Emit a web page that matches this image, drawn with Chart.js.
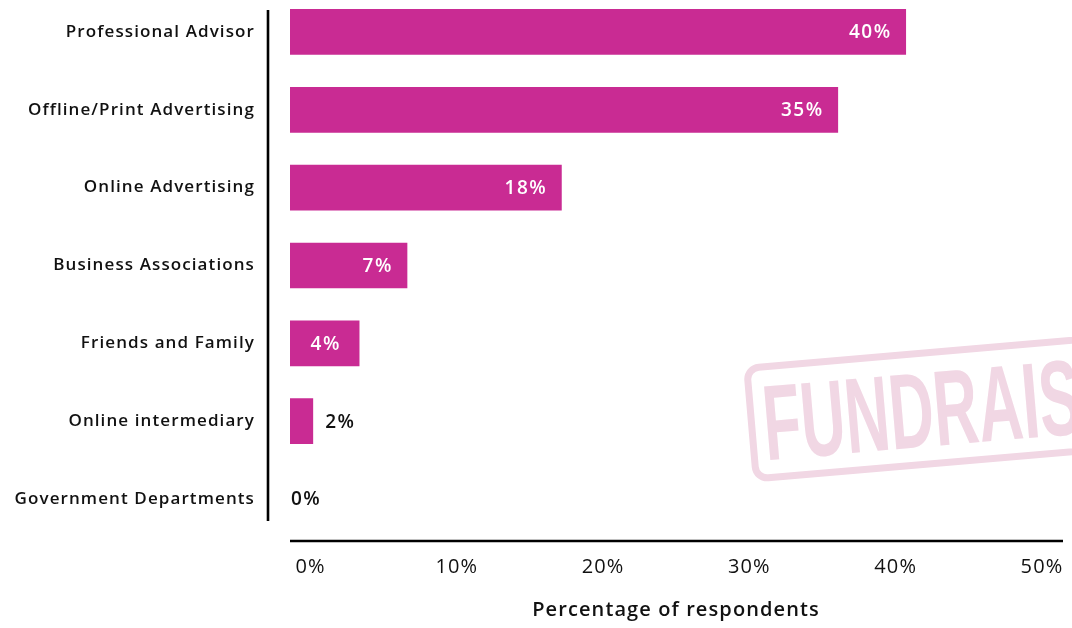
<!DOCTYPE html>
<html><head><meta charset="utf-8">
<script src="https://cdn.jsdelivr.net/npm/chart.js@4.4.1/dist/chart.umd.min.js"></script>
<style>
html,body{margin:0;padding:0;background:#fff;overflow:hidden;width:1072px;height:628px;}
#wrap{position:relative;width:1072px;height:628px;overflow:hidden;}
canvas{position:absolute;left:0;top:-7px;}
</style></head><body>
<div id="wrap"><canvas id="c" width="1072" height="636"></canvas></div>
<script>
const categories = ["Professional Advisor","Offline/Print Advertising","Online Advertising","Business Associations","Friends and Family","Online intermediary","Government Departments"];
const values = [39.9, 35.5, 17.6, 7.6, 4.5, 1.5, 0];
const valueLabels = ["40%","35%","18%","7%","4%","2%","0%"];
const xTickValues = [0, 10, 20, 30, 40, 50];
const xTitle = "Percentage of respondents";
const watermarkText = "FUNDRAISING";

const BAR = '#C92B93';
const FONT = "'Open Sans', sans-serif";

const spacing = {
  id: 'spacing',
  beforeDraw(chart) { chart.ctx.letterSpacing = '1.1px'; }
};

const axisLines = {
  id: 'axisLines',
  afterDraw(chart) {
    const {ctx, chartArea, scales} = chart;
    const y = scales.y;
    ctx.save();
    ctx.strokeStyle = '#000';
    ctx.lineWidth = 2.6;
    const yx = chartArea.left - 22;
    ctx.beginPath();
    ctx.moveTo(yx, y.getPixelForValue(0) - 22);
    ctx.lineTo(yx, y.getPixelForValue(categories.length - 1) + 22);
    ctx.stroke();
    const xy = chartArea.bottom + 3;
    ctx.beginPath();
    ctx.moveTo(chartArea.left, xy);
    ctx.lineTo(chartArea.right + 1, xy);
    ctx.stroke();
    ctx.restore();
  }
};

const watermark = {
  id: 'watermark',
  beforeDatasetsDraw(chart) {
    const ctx = chart.ctx;
    ctx.save();
    ctx.letterSpacing = '0px';
    ctx.translate(743, 372);
    ctx.rotate(-4.9 * Math.PI / 180);
    ctx.strokeStyle = '#F1D7E4';
    ctx.fillStyle = '#F1D7E4';
    ctx.lineWidth = 7;
    ctx.beginPath();
    ctx.roundRect(3.5, 3.5, 520, 111, 12);
    ctx.stroke();
    const sx = 0.575;
    ctx.scale(sx, 1);
    ctx.font = "bold 107px 'Liberation Sans', Arial, sans-serif";
    ctx.textBaseline = 'alphabetic';
    ctx.textAlign = 'left';
    ctx.fillText(watermarkText, 15 / sx, 97);
    ctx.restore();
  }
};

const dataLabels = {
  id: 'dataLabels',
  afterDatasetsDraw(chart) {
    const {ctx} = chart;
    const meta = chart.getDatasetMeta(0);
    ctx.save();
    ctx.font = "600 19px " + FONT;
    ctx.letterSpacing = '1.5px';
    ctx.textBaseline = 'middle';
    meta.data.forEach((bar, i) => {
      const w = bar.x - bar.base;
      const txt = valueLabels[i];
      const ty = bar.y + 1;
      if (w > 100) {
        ctx.fillStyle = '#fff';
        ctx.textAlign = 'right';
        ctx.fillText(txt, bar.x - 14.5, ty);
      } else if (w > 50) {
        ctx.fillStyle = '#fff';
        ctx.textAlign = 'center';
        ctx.fillText(txt, (bar.x + bar.base) / 2 + 1, ty);
      } else {
        ctx.fillStyle = '#111';
        ctx.textAlign = 'left';
        ctx.fillText(txt, bar.x + (w > 1 ? 12 : 1), ty);
      }
    });
    ctx.restore();
  }
};

new Chart(document.getElementById('c'), {
  type: 'bar',
  data: {
    labels: categories,
    datasets: [{
      data: values,
      backgroundColor: BAR,
      borderWidth: 0,
      categoryPercentage: 1,
      barPercentage: 0.587
    }]
  },
  options: {
    indexAxis: 'y',
    responsive: false,
    animation: false,
    devicePixelRatio: 1,
    layout: { padding: { left: 0, right: 10, top: 0, bottom: 0 } },
    plugins: { legend: { display: false }, tooltip: { enabled: false } },
    scales: {
      x: { display: false, min: 0, max: 50 },
      x2: {
        type: 'linear',
        position: 'bottom',
        min: -1.40,
        max: 51.37,
        grid: { display: false },
        border: { display: false },
        afterBuildTicks(s) { s.ticks = xTickValues.map(v => ({ value: v })); },
        afterFit(s) { s.height = 91; s.paddingLeft = 0; s.paddingRight = 0; },
        ticks: {
          padding: 9,
          color: '#111',
          font: { family: FONT, size: 20, weight: '400' },
          callback: v => v + '%'
        },
        title: {
          display: true,
          text: xTitle,
          color: '#111',
          font: { family: FONT, size: 20, weight: '600' },
          padding: { top: 0, bottom: 7 }
        }
      },
      y: {
        grid: { display: false },
        border: { display: false },
        afterFit(s) { s.width = 290; s.paddingTop = 0; s.paddingBottom = 0; },
        ticks: {
          padding: 27,
          color: '#111',
          font: { family: FONT, size: 17, weight: '600' }
        }
      }
    }
  },
  plugins: [spacing, watermark, dataLabels, axisLines]
});
</script>
</body></html>
